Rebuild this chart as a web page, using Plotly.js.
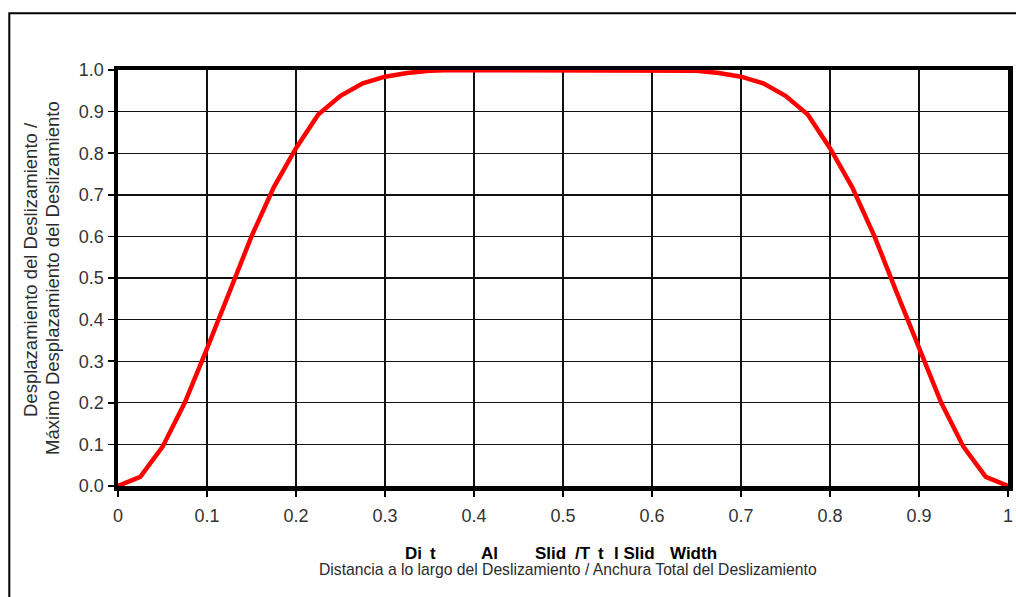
<!DOCTYPE html>
<html>
<head>
<meta charset="utf-8">
<script src="https://cdn.plot.ly/plotly-3.0.1.min.js"></script>
<style>
  html, body { margin: 0; padding: 0; background: #fff; }
  #chart { width: 1016px; height: 597px; }
</style>
</head>
<body>
<div id="chart"></div>
<script>
// ---- data ----
const distanceRatio = [0, 0.025, 0.05, 0.075, 0.1, 0.125, 0.15, 0.175, 0.2, 0.225, 0.25, 0.275, 0.3, 0.325, 0.35, 0.375,
  0.4, 0.425, 0.45, 0.475, 0.5, 0.525, 0.55, 0.575, 0.6,
  0.625, 0.65, 0.675, 0.7, 0.725, 0.75, 0.775, 0.8, 0.825, 0.85, 0.875, 0.9, 0.925, 0.95, 0.975, 1];
const displacementRatio = [0, 0.022, 0.094, 0.2, 0.33, 0.465, 0.6, 0.718, 0.812, 0.893, 0.938, 0.968, 0.984, 0.993, 0.998, 1.0,
  1.0, 1.0, 1.0, 1.0, 1.0, 1.0, 1.0, 1.0, 1.0,
  1.0, 0.998, 0.993, 0.984, 0.968, 0.938, 0.893, 0.812, 0.718, 0.6, 0.465, 0.33, 0.2, 0.094, 0.022, 0];

const xTickVals = [0, 0.1, 0.2, 0.3, 0.4, 0.5, 0.6, 0.7, 0.8, 0.9, 1];
const xTickText = ["0", "0.1", "0.2", "0.3", "0.4", "0.5", "0.6", "0.7", "0.8", "0.9", "1"];
const yTickVals = [0, 0.1, 0.2, 0.3, 0.4, 0.5, 0.6, 0.7, 0.8, 0.9, 1.0];
const yTickText = ["0.0", "0.1", "0.2", "0.3", "0.4", "0.5", "0.6", "0.7", "0.8", "0.9", "1.0"];

const yTitleLine1 = "Desplazamiento del Deslizamiento /";
const yTitleLine2 = "Máximo Desplazamiento del Deslizamiento";
const xTitleSpanish = "Distancia a lo largo del Deslizamiento / Anchura Total del Deslizamiento";
const xTitleEnglishFragments = ["Di", "t", "Al", "Slid", "/T", "t", "l Slid", "Width"];
const xTitleEnglishPx = [404, 429, 480, 534, 574, 597, 613, 669];

// ---- layout helpers (pixel -> paper) ----
const L = 118, R = 1008, T = 70, B = 486;
const W = R - L, H = B - T;
const px2x = p => (p - L) / W;
const py2y = p => (B - p) / H;

const FONT = "Liberation Sans, Arial, sans-serif";

const annotations = [];
annotations.push({
  xref: "paper", yref: "paper", x: px2x(30), y: py2y(270), text: yTitleLine1,
  textangle: -90, showarrow: false, xanchor: "center", yanchor: "middle",
  font: { family: FONT, size: 18.5, color: "#2b2b2b" }
});
annotations.push({
  xref: "paper", yref: "paper", x: px2x(52), y: py2y(278), text: yTitleLine2,
  textangle: -90, showarrow: false, xanchor: "center", yanchor: "middle",
  font: { family: FONT, size: 18.5, color: "#2b2b2b" }
});
xTitleEnglishFragments.forEach((t, i) => {
  annotations.push({
    xref: "paper", yref: "paper", x: px2x(xTitleEnglishPx[i]), y: py2y(553), text: "<b>" + t + "</b>",
    showarrow: false, xanchor: "left", yanchor: "middle", borderpad: 0,
    font: { family: FONT, size: 17, color: "#000" }
  });
});
annotations.push({
  xref: "paper", yref: "paper", x: px2x(568), y: py2y(569), text: xTitleSpanish,
  showarrow: false, xanchor: "center", yanchor: "middle",
  font: { family: FONT, size: 15.7, color: "#2b2b2b" }
});

const trace = {
  x: distanceRatio, y: displacementRatio, type: "scatter", mode: "lines",
  line: { color: "#ff0000", width: 4.5 }, cliponaxis: false, hoverinfo: "skip"
};

const axisCommon = {
  showline: true, linecolor: "#000", linewidth: 4.5, mirror: true,
  showgrid: true, gridcolor: "#111", gridwidth: 1.4,
  zeroline: false, ticks: "outside", ticklen: 6, tickwidth: 1.5, tickcolor: "#000",
  tickfont: { family: FONT, size: 18, color: "#333" },
  tickmode: "array", fixedrange: true, layer: "below traces"
};

const layout = {
  width: 1016, height: 597,
  margin: { l: L, r: 1016 - R, t: T, b: 597 - B, pad: 0 },
  paper_bgcolor: "#fff", plot_bgcolor: "#fff",
  showlegend: false,
  xaxis: Object.assign({}, axisCommon, { range: [0, 1], tickvals: xTickVals, ticktext: xTickText, ticklabelstandoff: 4 }),
  yaxis: Object.assign({}, axisCommon, { range: [0, 1], tickvals: yTickVals, ticktext: yTickText }),
  annotations: annotations,
  shapes: [{
    type: "rect", xref: "paper", yref: "paper",
    x0: px2x(9.3), x1: px2x(1030), y0: py2y(620), y1: py2y(13.3),
    line: { color: "#000", width: 2 }, fillcolor: "rgba(0,0,0,0)", layer: "below"
  }]
};

Plotly.newPlot("chart", [trace], layout, { staticPlot: true, displayModeBar: false });
</script>
</body>
</html>
